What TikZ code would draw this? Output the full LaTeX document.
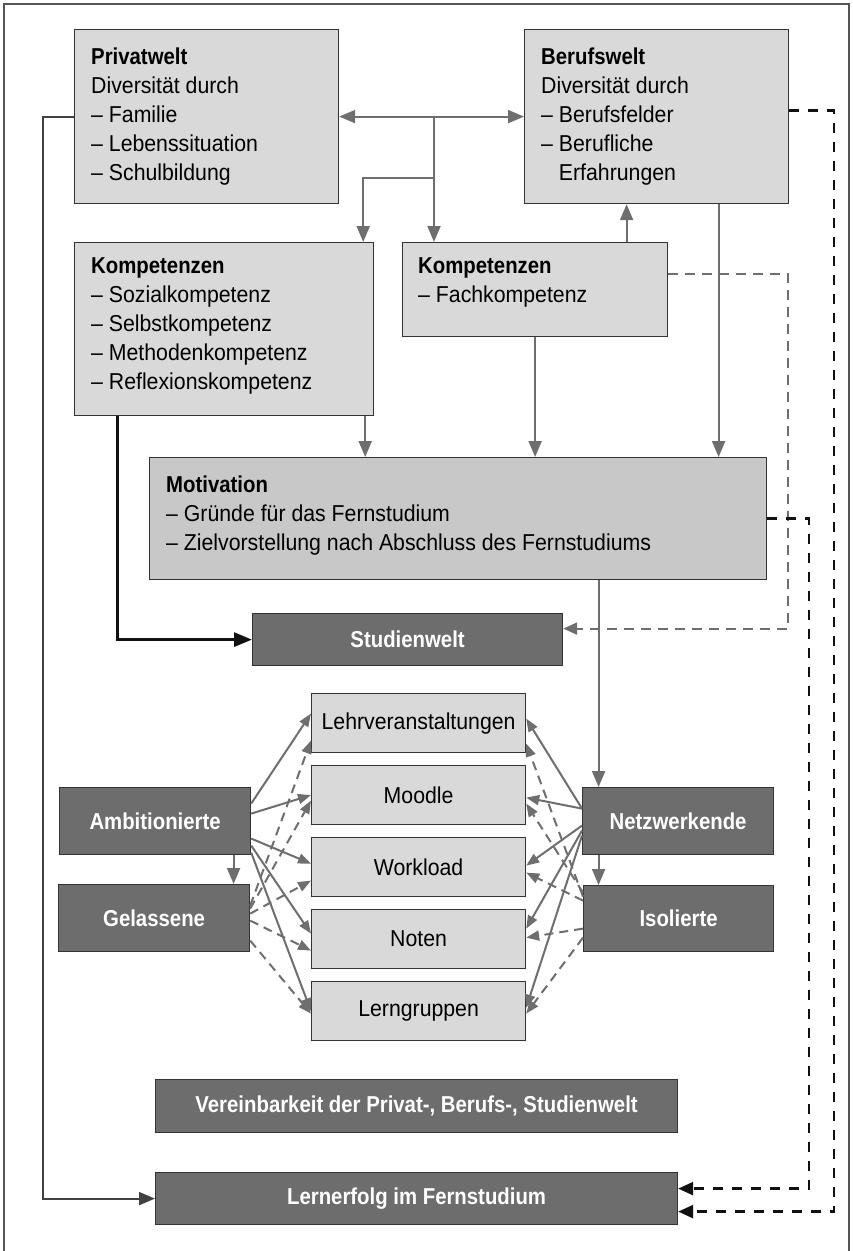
\documentclass[tikz,border=0pt]{standalone}
\usepackage{fontspec}
\setmainfont{Liberation Sans}[UprightFeatures={FakeStretch=0.925}, BoldFeatures={FakeStretch=0.885}]
\usetikzlibrary{arrows.meta,calc}
\definecolor{lightf}{HTML}{D9D9D9}
\definecolor{motf}{HTML}{C8C8C8}
\definecolor{darkf}{HTML}{6D6D6D}
\definecolor{bord}{HTML}{333333}
\definecolor{arrc}{HTML}{6E6E6E}
\definecolor{framec}{HTML}{555555}
\definecolor{blk}{HTML}{111111}
\tikzset{
  lbox/.style={draw=bord, fill=lightf, line width=1.2pt, anchor=north west, inner sep=0pt},
  mbox/.style={draw=bord, fill=motf, line width=1.2pt, anchor=north west, inner sep=0pt},
  dbox/.style={draw=bord, fill=darkf, line width=1.2pt, anchor=north west, inner sep=0pt, text=white, font=\fontsize{23}{29}\selectfont\bfseries},
  txt/.style={anchor=north west, align=left, inner sep=0pt},
  garr/.style={draw=arrc, line width=2pt, -{Triangle[length=16pt,width=13pt]}},
  gdarr/.style={draw=arrc, line width=2pt, {Triangle[length=16pt,width=13pt]}-{Triangle[length=16pt,width=13pt]}},
  gdash/.style={draw=arrc, line width=2pt, dash pattern=on 10pt off 7pt, -{Triangle[length=14pt,width=12pt]}},
  bdash/.style={draw=blk, line width=2.4pt, dash pattern=on 10pt off 9pt, -{Triangle[length=15pt,width=13pt]}},
  bthick/.style={draw=blk, line width=3pt, -{Triangle[length=18pt,width=14pt]}},
  bline/.style={draw=blk!80, line width=2pt, -{Triangle[length=16pt,width=13pt]}},
  fan/.style={draw=arrc, line width=2pt, -{Triangle[length=13pt,width=10pt]}},
  fandash/.style={draw=arrc, line width=2pt, dash pattern=on 9pt off 6pt, -{Triangle[length=13pt,width=10pt]}},
}
\begin{document}
\begin{tikzpicture}[x=1pt,y=-1pt,font=\fontsize{23}{29}\selectfont]
\useasboundingbox (0,0) rectangle (853,1251);
\draw[framec, line width=1.3pt] (4,1252) -- (4,4) -- (849,4) -- (849,1252);

% upper boxes
\node[lbox, minimum width=264, minimum height=174] (priv) at (74,29) {};
\node[txt] (privt) at (91,47.5) {\textbf{Privatwelt}\\Diversität durch\\– Familie\\– Lebenssituation\\– Schulbildung};
\node[lbox, minimum width=264, minimum height=174] (beruf) at (524,29) {};
\node[txt] (beruft) at (541,47.5) {\textbf{Berufswelt}\\Diversität durch\\– Berufsfelder\\– Berufliche\\\phantom{– }Erfahrungen};
\node[lbox, minimum width=299, minimum height=173] (komp) at (74,242) {};
\node[txt] (kompt) at (91,257.5) {\textbf{Kompetenzen}\\– Sozialkompetenz\\– Selbstkompetenz\\– Methodenkompetenz\\– Reflexionskompetenz};
\node[lbox, minimum width=265, minimum height=94] (fach) at (402,242) {};
\node[txt] (facht) at (418,257.5) {\textbf{Kompetenzen}\\– Fachkompetenz};
\node[mbox, minimum width=617, minimum height=122] (motiv) at (149,457) {};
\node[txt] (motivt) at (166,475.5) {\textbf{Motivation}\\– Gründe für das Fernstudium\\– Zielvorstellung nach Abschluss des Fernstudiums};
\node[dbox, minimum width=310, minimum height=52] (stud) at (252,613) {Studienwelt};

% centre boxes
\node[lbox, minimum width=214, minimum height=59] (lv) at (311,693) {Lehrveranstaltungen};
\node[lbox, minimum width=214, minimum height=59] (mo) at (311,765) {Moodle};
\node[lbox, minimum width=214, minimum height=59] (wl) at (311,837) {Workload};
\node[lbox, minimum width=214, minimum height=59] (no) at (311,909) {Noten};
\node[lbox, minimum width=214, minimum height=59] (lg) at (311,981) {Lerngruppen};

% types
\node[dbox, minimum width=191, minimum height=67] (amb) at (59,787) {Ambitionierte};
\node[dbox, minimum width=191, minimum height=67] (gel) at (58,884) {Gelassene};
\node[dbox, minimum width=191, minimum height=67] (net) at (582,787) {Netzwerkende};
\node[dbox, minimum width=190, minimum height=66] (iso) at (583,885) {Isolierte};

% bottom boxes
\node[dbox, minimum width=522, minimum height=53] (ver) at (155,1079) {Vereinbarkeit der Privat-, Berufs-, Studienwelt};
\node[dbox, minimum width=522, minimum height=52] (lern) at (155,1172) {Lernerfolg im Fernstudium};

% junctions
\coordinate (j1) at (434,116);
\coordinate (j2) at (434,178);
\coordinate (k1) at ([xshift=-11pt]komp.north east);

% top connectors
\draw[gdarr] (priv) -- (beruf);
\draw[garr] (j1) -- (j1 |- fach.north);
\draw[garr] (j2) -| (k1);
\draw[garr] ([xshift=91.5pt]fach.north) -- ([xshift=91.5pt]fach.north |- beruf.south);
\draw[garr] ([xshift=62pt]beruf.south) -- ([xshift=62pt]beruf.south |- motiv.north);
\draw[garr] (fach.south) -- (fach.south |- motiv.north);
\draw[garr] ([xshift=-9pt]komp.south east) -- ([xshift=-9pt]komp.south east |- motiv.north);
\draw[garr] ([xshift=-79.5pt]net.north |- motiv.south) -- ([xshift=-79.5pt]net.north);
\draw[garr] ([xshift=-79.5pt]net.south) -- ([xshift=-79.5pt]net.south |- iso.north);
\draw[garr] ([xshift=78.5pt]amb.south) -- ([xshift=78.5pt]amb.south |- gel.north);

% Kompetenzen -> Studienwelt
\draw[bthick] ([xshift=43pt]komp.south west) |- (stud.west);
% Fachkompetenz dashed -> Studienwelt
\draw[gdash] ([yshift=16pt]fach.east) -- ++(120,0) |- ([yshift=11pt]stud.east);

% long connectors to Lernerfolg
\draw[bline] (priv.west) -- ++(-31,0) |- (lern.west);
\draw[bdash] ([yshift=6pt]beruf.east) -- ++(45,0) |- ([yshift=-13pt]lern.east);
\draw[bdash] (motiv.east) -- ++(42,0) |- ([yshift=10pt]lern.east);

% fans
\foreach \t/\a/\b in {lv/17.5/9.5, mo/7.5/0, wl/-17.5/3.5, no/-24.5/5.5, lg/-31.5/0}
  \draw[fan] ([yshift=\a pt]amb.east) -- ([yshift=\b pt]\t.west);
\foreach \t/\a/\b in {lv/12.5/-17.5, mo/9.5/-5.5, wl/4.5/-13.5, no/-2.5/-11.5, lg/-22.5/-2.5}
  \draw[fandash] ([yshift=\a pt]gel.east) -- ([yshift=\b pt]\t.west);
\foreach \t/\a/\b in {lv/12.5/4.5, mo/12.5/-2.5, wl/-4.5/1.5, no/-9.5/10.5, lg/-14.5/3.5}
  \draw[fan] ([yshift=\a pt]net.west) -- ([yshift=\b pt]\t.east);
\foreach \t/\a/\b in {lv/22/-20.5, mo/26/-8.5, wl/18/-5.5, no/-10/1.5, lg/-19/-2.5}
  \draw[fandash] ([yshift=\a pt]iso.west) -- ([yshift=\b pt]\t.east);
\end{tikzpicture}
\end{document}
